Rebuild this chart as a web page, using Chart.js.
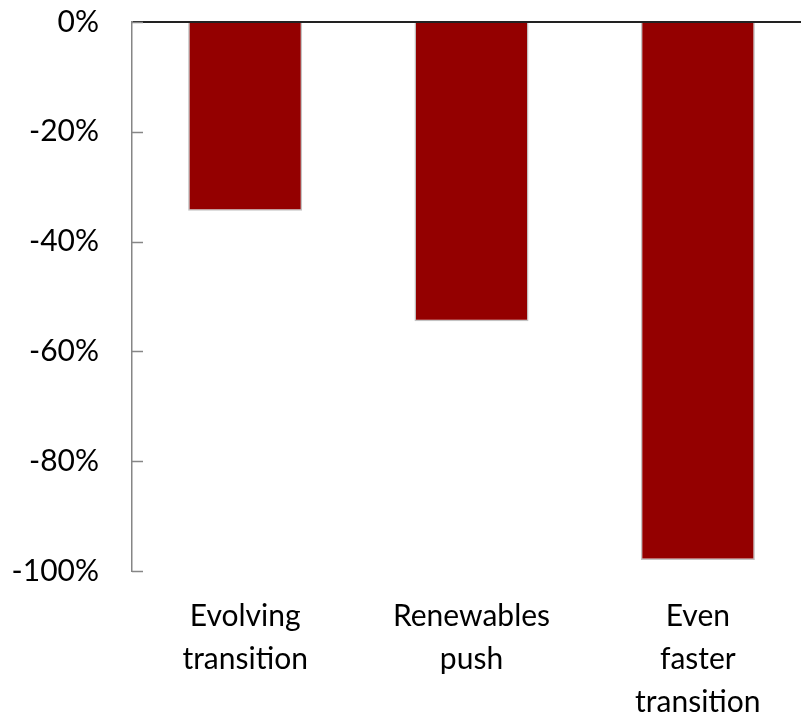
<!DOCTYPE html>
<html>
<head>
<meta charset="utf-8">
<script src="https://cdn.jsdelivr.net/npm/chart.js@4/dist/chart.umd.min.js"></script>
<style>
  html, body { margin: 0; padding: 0; background: #fff; overflow: hidden; }
  .wrap { width: 811px; height: 714px; position: relative; }
</style>
</head>
<body>
<div class="wrap"><canvas id="chart"></canvas></div>
<script>
  // scenario labels (multi-line like the original)
  const categories = [
    ['Evolving', 'transition'],
    ['Renewables', 'push'],
    ['Even', 'faster', 'transition']
  ];
  const changeValues = [-34.4, -54.5, -98.0];
  const yTicks = [0, -20, -40, -60, -80, -100];

  const FONT = 'Lato, "Open Sans", sans-serif';

  // small ticks pointing into the plot, like the original
  const innerTicks = {
    id: 'innerTicks',
    afterDraw(chart) {
      const y = chart.scales.y;
      const ctx = chart.ctx;
      ctx.save();
      ctx.strokeStyle = '#868686';
      ctx.lineWidth = 1.5;
      yTicks.forEach(v => {
        const py = Math.round(y.getPixelForValue(v)) + 0.5;
        ctx.beginPath();
        ctx.moveTo(chart.chartArea.left, py);
        ctx.lineTo(chart.chartArea.left + 11, py);
        ctx.stroke();
      });
      ctx.restore();
    }
  };

  new Chart(document.getElementById('chart'), {
    type: 'bar',
    data: {
      labels: categories,
      datasets: [{
        data: changeValues,
        backgroundColor: '#940000',
        borderColor: '#c3c3c3',
        borderWidth: 1.5,
        barPercentage: 1,
        categoryPercentage: 0.504
      }]
    },
    options: {
      responsive: true,
      maintainAspectRatio: false,
      animation: false,
      layout: { padding: { top: 22, right: 0, bottom: 0, left: 0 } },
      plugins: {
        legend: { display: false },
        tooltip: { enabled: false }
      },
      scales: {
        y: {
          min: -100,
          max: 0,
          afterFit: s => { s.width = 132; s.paddingTop = 0; s.paddingBottom = 0; },
          afterBuildTicks: s => { s.ticks = yTicks.map(v => ({ value: v })); },
          ticks: {
            padding: 33,
            color: '#000',
            font: { family: FONT, size: 30 },
            callback: v => v + '%'
          },
          grid: {
            drawTicks: false,
            lineWidth: 2,
            color: c => (c.tick && c.tick.value === 0) ? '#222' : 'rgba(0,0,0,0)'
          },
          border: { display: true, color: '#868686', width: 1.5 }
        },
        x: {
          afterFit: s => { s.height = 143; },
          ticks: {
            padding: 24,
            maxRotation: 0,
            autoSkip: false,
            color: '#000',
            font: { family: FONT, size: 30, lineHeight: 1.43 }
          },
          grid: { display: false, drawTicks: false },
          border: { display: false }
        }
      }
    },
    plugins: [innerTicks]
  });
</script>
</body>
</html>
